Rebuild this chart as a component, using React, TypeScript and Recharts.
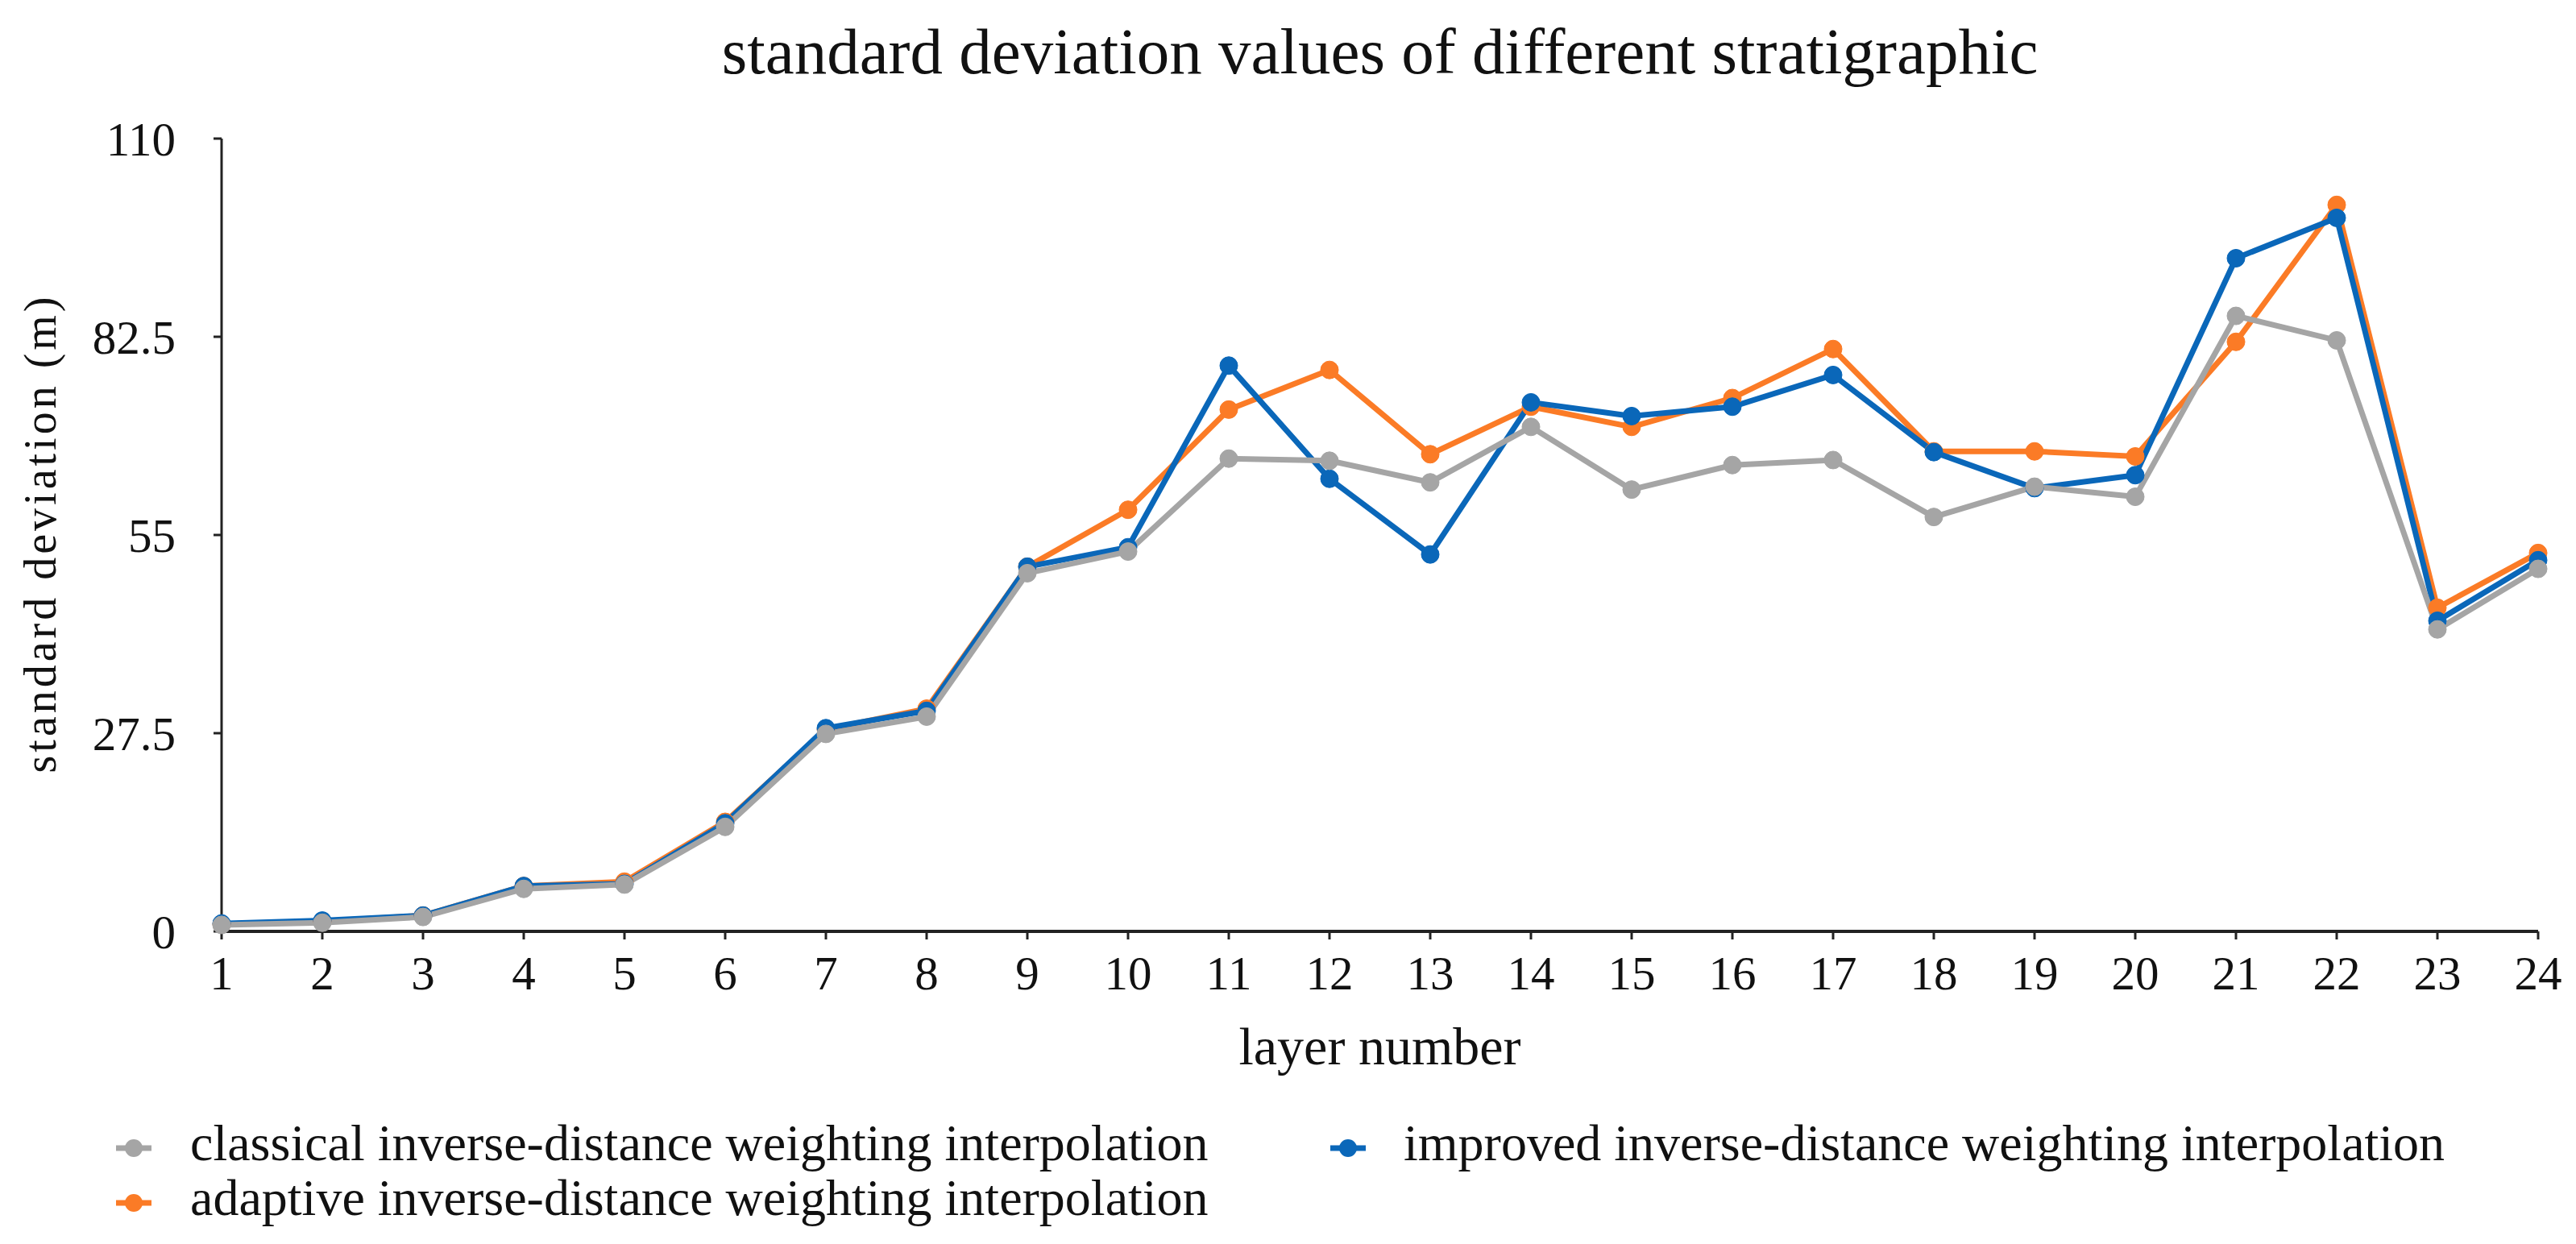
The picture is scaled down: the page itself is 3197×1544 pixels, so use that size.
import React from 'react';
import { LineChart, Line, XAxis, YAxis, Legend } from 'recharts';

const layers = ['1', '2', '3', '4', '5', '6', '7', '8', '9', '10', '11', '12', '13', '14', '15', '16', '17', '18', '19', '20', '21', '22', '23', '24'];
const classical = [0.9, 1.2, 2.0, 5.9, 6.5, 14.5, 27.4, 29.8, 49.7, 52.7, 65.6, 65.3, 62.3, 70.0, 61.3, 64.7, 65.4, 57.5, 61.7, 60.3, 85.4, 82.0, 41.9, 50.3];
const adaptive = [1.0, 1.4, 2.2, 6.3, 6.9, 15.2, 28.0, 30.9, 50.6, 58.5, 72.4, 77.9, 66.2, 72.8, 70.0, 74.0, 80.8, 66.6, 66.6, 65.9, 81.8, 100.8, 44.9, 52.5];
const improved = [1.1, 1.5, 2.2, 6.3, 6.6, 15.0, 28.2, 30.6, 50.6, 53.3, 78.5, 62.8, 52.3, 73.4, 71.5, 72.8, 77.2, 66.5, 61.5, 63.3, 93.4, 99.0, 43.1, 51.5];
const yTicks = [0, 27.5, 55, 82.5, 110];

const seriesNames = {
  classical: 'classical inverse-distance weighting interpolation',
  adaptive: 'adaptive inverse-distance weighting interpolation',
  improved: 'improved inverse-distance weighting interpolation',
};

const colors = {
  classical: '#A5A5A5',
  adaptive: '#FB7B26',
  improved: '#0A67B9',
};

const data = layers.map((layer, i) => ({
  layer,
  classical: classical[i],
  adaptive: adaptive[i],
  improved: improved[i],
}));

const FONT = '"Liberation Serif", "DejaVu Serif", serif';
const W = 3197;
const H = 1544;

const legendItems = [
  { key: 'classical', col: 0, row: 0 },
  { key: 'improved', col: 1, row: 0 },
  { key: 'adaptive', col: 0, row: 1 },
];

const LegendContent = () => {
  const colMarker = [166, 1673];
  const colText = [236, 1742];
  const rowBase = [84, 152];
  return (
    <svg width={W} height={170} style={{ display: 'block', overflow: 'visible' }}>
      {legendItems.map((it) => {
        const c = colors[it.key as keyof typeof colors];
        const cx = colMarker[it.col];
        const cy = rowBase[it.row] - 15;
        return (
          <g key={it.key}>
            <line x1={cx - 22} x2={cx + 22} y1={cy} y2={cy} stroke={c} strokeWidth={7} />
            <circle cx={cx} cy={cy} r={11} fill={c} />
            <text x={colText[it.col]} y={rowBase[it.row]} fontFamily={FONT} fontSize={64} fill="#111">
              {seriesNames[it.key as keyof typeof seriesNames]}
            </text>
          </g>
        );
      })}
    </svg>
  );
};

const YLabel = (props: any) => {
  const vb = props.viewBox || { x: 0, y: 172, width: 275, height: 984 };
  const x = vb.x + 50;
  const y = vb.y + vb.height / 2 - 2;
  return (
    <text
      x={x}
      y={y}
      transform={`rotate(-90, ${x}, ${y})`}
      textAnchor="middle"
      dominantBaseline="central"
      fontFamily={FONT}
      fontSize={56}
      letterSpacing={4}
      fill="#111"
    >
      standard deviation (m)
    </text>
  );
};

const XLabel = (props: any) => {
  const vb = props.viewBox || { x: 275, y: 1156, width: 2875, height: 200 };
  return (
    <text
      x={vb.x + vb.width / 2}
      y={vb.y + 165}
      textAnchor="middle"
      fontFamily={FONT}
      fontSize={66}
      fill="#111"
    >
      layer number
    </text>
  );
};

export default function App() {
  return (
    <div style={{ position: 'absolute', left: 0, top: 0, width: W, height: H, background: '#fff' }}>
      <div
        style={{
          position: 'absolute',
          left: 275,
          width: 2875,
          top: 24,
          textAlign: 'center',
          fontFamily: FONT,
          fontSize: 81,
          lineHeight: '81px',
          color: '#111',
          zIndex: 2,
        }}
      >
        standard deviation values of different stratigraphic
      </div>
      <LineChart width={W} height={H} data={data} margin={{ top: 172, right: 47, left: 0, bottom: 18 }}>
        <XAxis
          dataKey="layer"
          type="category"
          scale="point"
          padding={{ left: 0, right: 0 }}
          height={200}
          axisLine={{ stroke: '#222', strokeWidth: 4 }}
          tickLine={{ stroke: '#222', strokeWidth: 3 }}
          tickSize={10}
          tickMargin={20}
          tick={{ fontFamily: FONT, fontSize: 59, fill: '#111' }}
          interval={0}
          label={<XLabel />}
        />
        <YAxis
          type="number"
          domain={[0, 110]}
          ticks={yTicks}
          width={275}
          axisLine={{ stroke: '#222', strokeWidth: 3 }}
          tickLine={{ stroke: '#222', strokeWidth: 3 }}
          tickSize={10}
          tickMargin={47}
          tick={{ fontFamily: FONT, fontSize: 59, fill: '#111' }}
          interval={0}
          allowDecimals
          label={<YLabel />}
        />
        <Legend
          verticalAlign="bottom"
          height={170}
          wrapperStyle={{ left: 0, top: 1356, bottom: 'auto', width: W, height: 170 }}
          content={<LegendContent />}
        />
        <Line
          dataKey="adaptive"
          name={seriesNames.adaptive}
          stroke={colors.adaptive}
          strokeWidth={7}
          dot={{ r: 11, fill: colors.adaptive, stroke: colors.adaptive, strokeWidth: 1 }}
          activeDot={false}
          isAnimationActive={false}
        />
        <Line
          dataKey="improved"
          name={seriesNames.improved}
          stroke={colors.improved}
          strokeWidth={7}
          dot={{ r: 11, fill: colors.improved, stroke: colors.improved, strokeWidth: 1 }}
          activeDot={false}
          isAnimationActive={false}
        />
        <Line
          dataKey="classical"
          name={seriesNames.classical}
          stroke={colors.classical}
          strokeWidth={7}
          dot={{ r: 11, fill: colors.classical, stroke: colors.classical, strokeWidth: 1 }}
          activeDot={false}
          isAnimationActive={false}
        />
      </LineChart>
    </div>
  );
}
